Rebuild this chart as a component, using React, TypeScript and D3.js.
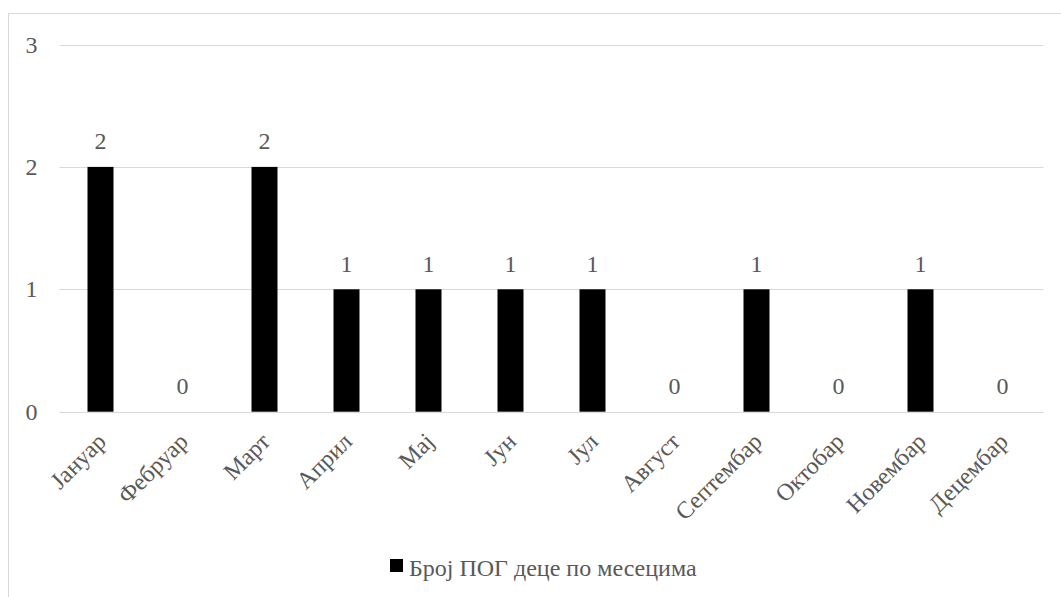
import React from "react";
import * as d3 from "d3";

const months = ["Јануар", "Фебруар", "Март", "Април", "Мај", "Јун", "Јул", "Август", "Септембар", "Октобар", "Новембар", "Децембар"];
const counts = [2, 0, 2, 1, 1, 1, 1, 0, 1, 0, 1, 0];
const yTicks = [0, 1, 2, 3];
const seriesName = "Број ПОГ деце по месецима";

const W = 1061;
const H = 597;
const FONT = "Liberation Serif, Times New Roman, serif";
const TXT = "#595959";
const GRID = "#d9d9d9";

export default function App() {
  const x = d3.scaleBand<string>().domain(months).range([59.5, 1043.5]).paddingInner(0.683).paddingOuter(0.3415);
  const y = d3.scaleLinear().domain([0, 3]).range([411.7, 44.5]);
  const bw = x.bandwidth();
  const ts = { fontFamily: FONT, fontSize: 24, fill: TXT } as React.CSSProperties;
  return (
    <svg width={W} height={H} style={{ position: "absolute", left: 0, top: 0, background: "#fff" }}>
      <rect x={8.5} y={13.5} width={1070} height={600} fill="#fff" stroke={GRID} strokeWidth={1} />
      {yTicks.map((t) => (
        <g key={t}>
          <line x1={59.5} x2={1043.5} y1={Math.round(y(t)) + 0.5} y2={Math.round(y(t)) + 0.5} stroke={GRID} strokeWidth={1.2} />
          <text x={37.5} y={y(t) + 8} textAnchor="end" style={ts}>{t}</text>
        </g>
      ))}
      {months.map((m, i) => {
        const cx = (x(m) as number) + bw / 2;
        return (
          <g key={m}>
            <rect x={x(m)} y={y(counts[i])} width={bw} height={y(0) - y(counts[i])} fill="#000" />
            <text x={cx} y={y(counts[i]) - 17.5} textAnchor="middle" style={ts}>{counts[i]}</text>
            <text transform={`translate(${cx + 7},${443}) rotate(-45)`} textAnchor="end" style={ts}>{m}</text>
          </g>
        );
      })}
      <rect x={390} y={559} width={13} height={13} fill="#000" />
      <text x={409} y={575.5} style={ts}>{seriesName}</text>
    </svg>
  );
}
